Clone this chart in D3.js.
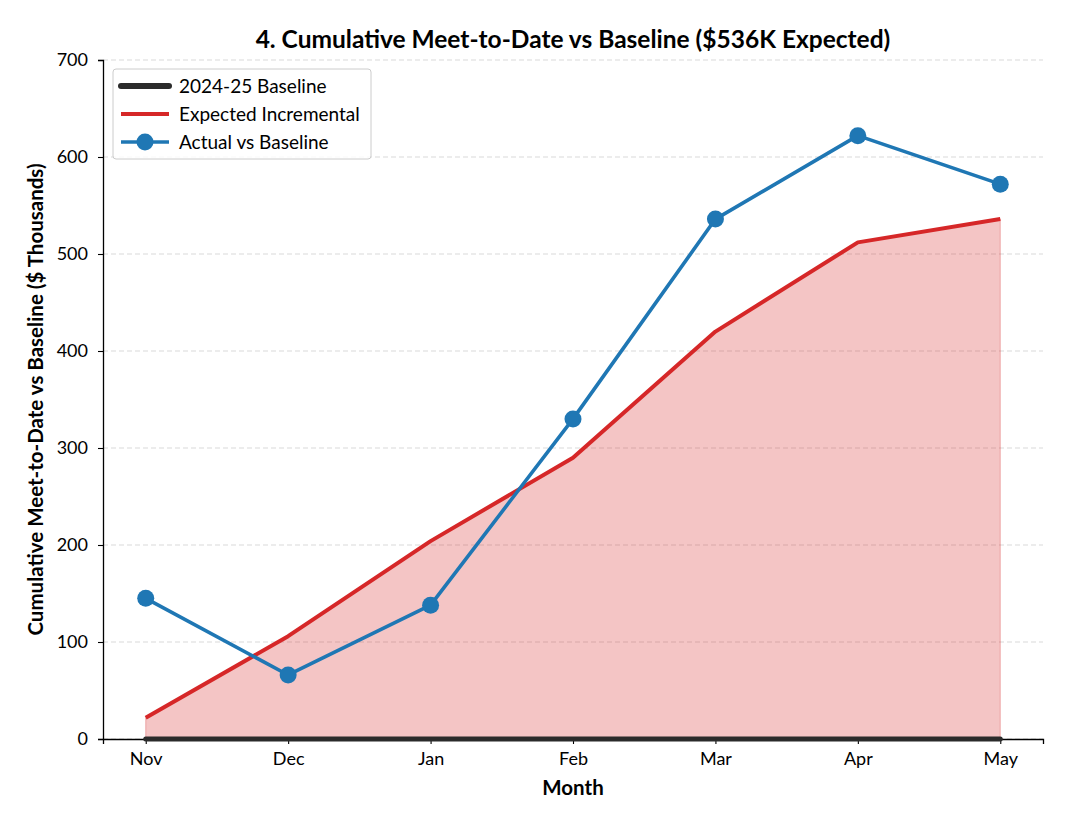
<!DOCTYPE html>
<html>
<head>
<meta charset="utf-8">
<script src="https://cdn.jsdelivr.net/npm/d3@7"></script>
<style>
	body { margin: 0; background: #fff; }
	text { font-family: Lato, "DejaVu Sans", sans-serif; }
</style>
</head>
<body>
<div id="chart"></div>
<script>
// chart data
const months = ['Nov', 'Dec', 'Jan', 'Feb', 'Mar', 'Apr', 'May'];
const baseline = [0, 0, 0, 0, 0, 0, 0];
const expected = [22, 106, 204, 290, 420, 512, 536];
const actual = [145, 66, 138, 330, 536, 622, 572];
const yTicks = [0, 100, 200, 300, 400, 500, 600, 700];

const width = 1071;
const height = 825;
const margin = { top: 60, right: 28, bottom: 86, left: 103 };

const svg = d3.select('#chart').append('svg')
	.attr('width', width)
	.attr('height', height);

const plotW = width - margin.left - margin.right;
const plotH = height - margin.top - margin.bottom;

const chart = svg.append('g')
	.attr('transform', `translate(${margin.left}, ${margin.top})`);

// scales (matplotlib style 5% padding on x)
const x = d3.scaleLinear()
	.domain([-0.3, months.length - 1 + 0.3])
	.range([0, plotW]);
const y = d3.scaleLinear()
	.domain([0, 700])
	.range([plotH, 0]);

// grid
chart.append('g')
	.selectAll('line')
	.data(yTicks)
	.enter().append('line')
		.attr('x1', 0)
		.attr('x2', plotW)
		.attr('y1', d => y(d))
		.attr('y2', d => y(d))
		.style('stroke', '#d9d9d9')
		.style('stroke-width', 1)
		.style('stroke-dasharray', '5,3');

// fill under expected
const area = d3.area()
	.x((d, i) => x(i))
	.y0(y(0))
	.y1(d => y(d));
chart.append('path')
	.datum(expected)
	.attr('d', area)
	.style('fill', 'rgba(214,39,40,0.27)')
	.style('stroke', 'rgba(214,39,40,0.3)')
	.style('stroke-width', 1);

const line = d3.line()
	.x((d, i) => x(i))
	.y(d => y(d));

// axes
const xAxis = chart.append('g')
	.attr('transform', `translate(0, ${plotH})`)
	.call(d3.axisBottom(x).tickValues(d3.range(months.length)).tickFormat(i => months[i]).tickSizeOuter(0).tickSize(5).tickPadding(8));
const yAxis = chart.append('g')
	.call(d3.axisLeft(y).tickValues(yTicks).tickSizeOuter(0).tickSize(5).tickPadding(10));
[xAxis, yAxis].forEach(a => {
	a.select('.domain').style('stroke', '#000').style('stroke-width', 1.3);
	a.selectAll('.tick line').style('stroke', '#000').style('stroke-width', 1.1);
	a.selectAll('.tick text').style('font-size', '18px').style('fill', '#000')
		.style('font-family', 'Lato, sans-serif');
});

// baseline
chart.append('path')
	.datum(baseline)
	.attr('d', line)
	.style('fill', 'none')
	.style('stroke', '#2b2b2b')
	.style('stroke-width', 5)
	.style('stroke-linecap', 'round');

// expected incremental
chart.append('path')
	.datum(expected)
	.attr('d', line)
	.style('fill', 'none')
	.style('stroke', '#d62728')
	.style('stroke-width', 4)
	.style('stroke-linejoin', 'round');

// actual vs baseline
chart.append('path')
	.datum(actual)
	.attr('d', line)
	.style('fill', 'none')
	.style('stroke', '#1f77b4')
	.style('stroke-width', 3.6)
	.style('stroke-linejoin', 'round');
chart.append('g')
	.selectAll('circle')
	.data(actual)
	.enter().append('circle')
		.attr('cx', (d, i) => x(i))
		.attr('cy', d => y(d))
		.attr('r', 8.5)
		.style('fill', '#1f77b4');

// title and labels
svg.append('text')
	.attr('x', margin.left + plotW / 2)
	.attr('y', 48)
	.attr('text-anchor', 'middle')
	.style('font-size', '24.5px')
	.style('font-weight', 'bold')
	.text('4. Cumulative Meet-to-Date vs Baseline ($536K Expected)');
svg.append('text')
	.attr('x', margin.left + plotW / 2)
	.attr('y', 795)
	.attr('text-anchor', 'middle')
	.style('font-size', '20.5px')
	.style('font-weight', 'bold')
	.text('Month');
svg.append('text')
	.attr('transform', `translate(43, ${margin.top + plotH / 2}) rotate(-90)`)
	.attr('text-anchor', 'middle')
	.style('font-size', '20.5px')
	.style('font-weight', 'bold')
	.text('Cumulative Meet-to-Date vs Baseline ($ Thousands)');

// legend
const legendItems = [
	{ label: '2024-25 Baseline', color: '#2b2b2b', w: 6, marker: false },
	{ label: 'Expected Incremental', color: '#d62728', w: 4, marker: false },
	{ label: 'Actual vs Baseline', color: '#1f77b4', w: 3.6, marker: true },
];
const legend = svg.append('g')
	.attr('transform', 'translate(113, 69)');
legend.append('rect')
	.attr('width', 258)
	.attr('height', 90)
	.attr('rx', 3)
	.style('fill', 'rgba(255,255,255,0.85)')
	.style('stroke', '#cccccc')
	.style('stroke-width', 1);
const li = legend.selectAll('.item')
	.data(legendItems)
	.enter().append('g')
		.attr('class', 'item')
		.attr('transform', (d, i) => `translate(0, ${17 + i * 28})`);
li.append('line')
	.attr('x1', 8)
	.attr('x2', 56)
	.style('stroke', d => d.color)
	.style('stroke-width', d => d.w)
	.style('stroke-linecap', d => d.marker ? 'butt' : (d.w > 5 ? 'round' : 'butt'));
li.filter(d => d.marker).append('circle')
	.attr('cx', 32)
	.attr('r', 8.5)
	.style('fill', d => d.color);
li.append('text')
	.attr('x', 66)
	.attr('dy', '0.35em')
	.style('font-size', '19px')
	.text(d => d.label);
</script>
</body>
</html>
